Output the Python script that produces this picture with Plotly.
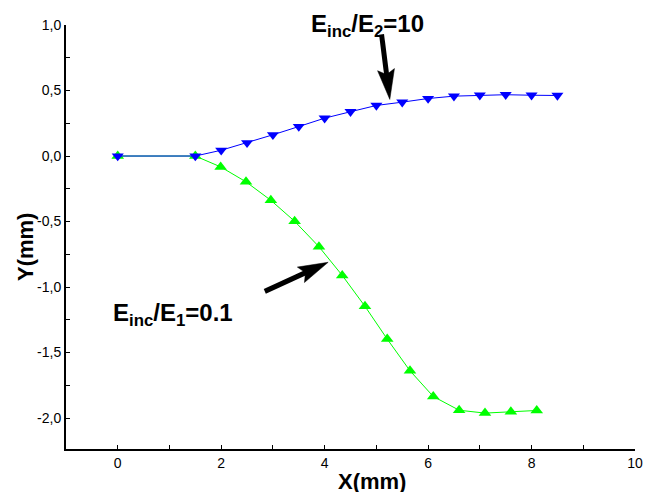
import math
import plotly.graph_objects as go

# Lateral deflection profiles for the two stiffness ratios
x_stiff = [0, 1.5, 2.0, 2.5, 3.0, 3.5, 4.0, 4.5, 5.0, 5.5, 6.0, 6.5, 7.0, 7.5, 8.0, 8.5]
y_stiff = [0, 0, 0.044, 0.101, 0.162, 0.225, 0.289, 0.338, 0.386, 0.411,
           0.439, 0.457, 0.464, 0.468, 0.464, 0.462]

x_soft = [0, 1.5, 1.99, 2.48, 2.96, 3.42, 3.89, 4.34, 4.78, 5.21, 5.65,
          6.1, 6.6, 7.1, 7.6, 8.1]
y_soft = [0, 0, -0.083, -0.197, -0.338, -0.498, -0.692, -0.911, -1.147,
          -1.397, -1.639, -1.835, -1.94, -1.962, -1.952, -1.942]

label_stiff = "E<sub>inc</sub>/E<sub>2</sub>=10"
label_soft = "E<sub>inc</sub>/E<sub>1</sub>=0.1"

# Axis ticks (decimal comma, plain hyphen for negatives)
x_tickvals = [0, 2, 4, 6, 8, 10]
x_ticktext = ["0", "2", "4", "6", "8", "10"]
x_minorvals = [1, 3, 5, 7, 9]
y_tickvals = [-2.0, -1.5, -1.0, -0.5, 0.0, 0.5, 1.0]
y_ticktext = ["-2,0", "-1,5", "-1,0", "-0,5", "0,0", "0,5", "1,0"]
y_minorvals = [-1.75, -1.25, -0.75, -0.25, 0.25, 0.75]

X_RANGE = [-1.0, 10.0]
Y_RANGE = [-2.236, 1.0]

W, H = 646, 492
M = dict(l=66, r=11, t=25, b=43)
plot_w = W - M["l"] - M["r"]
plot_h = H - M["t"] - M["b"]
sx = plot_w / (X_RANGE[1] - X_RANGE[0])
sy = plot_h / (Y_RANGE[1] - Y_RANGE[0])

# Pointer arrows: (tail, tip) in data units
arrow_stiff = ((5.10, 0.928), (5.26, 0.432))
arrow_soft = ((2.843, -1.033), (4.068, -0.811))

FONT = "Liberation Sans, Arial, sans-serif"


def px_to_paper(px, py):
    return (px - M["l"]) / plot_w, (H - M["b"] - py) / plot_h


fig = go.Figure()

fig.add_trace(go.Scatter(
    x=x_soft, y=y_soft, mode="lines+markers",
    line=dict(color="#00ff00", width=1),
    marker=dict(symbol="triangle-up", size=11, color="#00ff00"),
    showlegend=False, cliponaxis=False,
))
fig.add_trace(go.Scatter(
    x=x_stiff, y=y_stiff, mode="lines+markers",
    line=dict(color="#0000ff", width=1),
    marker=dict(symbol="triangle-down", size=10.5, color="#0000ff"),
    showlegend=False, cliponaxis=False,
))


def arrow_shapes(tail, tip, head_len=30, head_w=17, notch=5, shaft_w=5):
    # geometry in screen-scaled units so the head keeps its shape
    tx, ty = tail[0] * sx, tail[1] * sy
    hx, hy = tip[0] * sx, tip[1] * sy
    d = math.hypot(hx - tx, hy - ty)
    ux, uy = (hx - tx) / d, (hy - ty) / d
    px, py = -uy, ux
    bx, by = hx - ux * head_len, hy - uy * head_len
    nx, ny = bx + ux * notch, by + uy * notch
    c1 = (bx + px * head_w / 2, by + py * head_w / 2)
    c2 = (bx - px * head_w / 2, by - py * head_w / 2)

    def back(p):
        return p[0] / sx, p[1] / sy

    pts = [back((hx, hy)), back(c1), back((nx, ny)), back(c2)]
    path = "M " + " L ".join(f"{a},{b}" for a, b in pts) + " Z"
    end = back((nx + ux * 2, ny + uy * 2))
    return [
        dict(type="line", xref="x", yref="y", x0=tail[0], y0=tail[1],
             x1=end[0], y1=end[1], line=dict(color="black", width=shaft_w)),
        dict(type="path", xref="x", yref="y", path=path,
             fillcolor="black", line=dict(color="black", width=0.5)),
    ]


shapes = arrow_shapes(*arrow_stiff) + arrow_shapes(*arrow_soft)

t1 = px_to_paper(309, 25)
t2 = px_to_paper(111, 314)
xt = px_to_paper(372, 481)
yt = px_to_paper(25, 247)

bold24 = dict(family=FONT, size=24, color="black", weight="bold")
bold22 = dict(family=FONT, size=22, color="black", weight="bold")

annotations = [
    dict(text=label_stiff, x=t1[0], y=t1[1], xref="paper", yref="paper",
         xanchor="left", yanchor="middle", showarrow=False, font=bold24),
    dict(text=label_soft, x=t2[0], y=t2[1], xref="paper", yref="paper",
         xanchor="left", yanchor="middle", showarrow=False, font=bold24),
    dict(text="X(mm)", x=xt[0], y=xt[1], xref="paper", yref="paper",
         xanchor="center", yanchor="middle", showarrow=False, font=bold22),
    dict(text="Y(mm)", x=yt[0], y=yt[1], xref="paper", yref="paper",
         xanchor="center", yanchor="middle", showarrow=False, textangle=-90,
         font=bold22),
]

axis_common = dict(
    showline=True, linecolor="black", linewidth=2,
    ticks="inside", ticklen=4, tickwidth=1, tickcolor="black",
    showgrid=False, zeroline=False, automargin=False,
    tickfont=dict(family=FONT, size=14, color="black"),
    tickmode="array",
)

fig.update_layout(
    width=W, height=H, margin=M,
    paper_bgcolor="white", plot_bgcolor="white",
    xaxis=dict(range=X_RANGE, tickvals=x_tickvals, ticktext=x_ticktext,
               minor=dict(tickmode="array", tickvals=x_minorvals, ticks="inside",
                          ticklen=4, tickcolor="black", showgrid=False),
               **axis_common),
    yaxis=dict(range=Y_RANGE, tickvals=y_tickvals, ticktext=y_ticktext,
               minor=dict(tickmode="array", tickvals=y_minorvals, ticks="inside",
                          ticklen=4, tickcolor="black", showgrid=False),
               **axis_common),
    shapes=shapes, annotations=annotations,
    font=dict(family=FONT),
)

fig.write_html("out.html")
